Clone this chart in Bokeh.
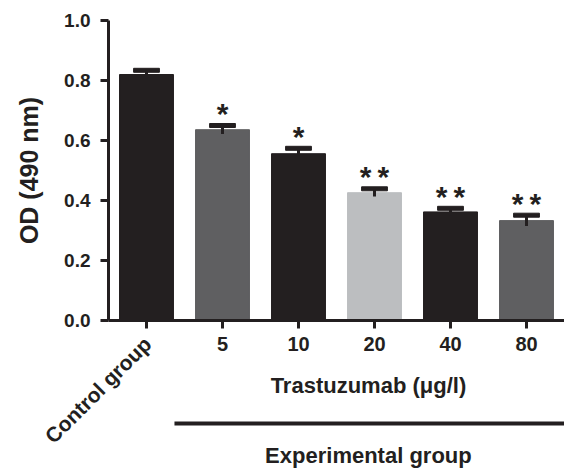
import math
from bokeh.plotting import figure
from bokeh.models import ColumnDataSource, Range1d, FixedTicker
from bokeh.core.properties import value
from bokeh.embed import file_html
from bokeh.resources import INLINE

# ---- data ----
categories = ["Control group", "5", "10", "20", "40", "80"]
od_values = [0.820, 0.636, 0.556, 0.426, 0.362, 0.333]
sem_values = [0.014, 0.014, 0.018, 0.013, 0.012, 0.018]
significance = ["", "*", "*", "*\u2009*", "*\u2009*", "*\u2009*"]
y_ticks = [0.0, 0.2, 0.4, 0.6, 0.8, 1.0]
dose_title = "Trastuzumab (\u03bcg/l)"
group_title = "Experimental group"

bar_colors = ["#231f20", "#5f5f61", "#231f20", "#bcbec0", "#231f20", "#5f5f61"]
INK = "#231f20"
FONT = "Liberation Sans"

# category slots: slot i is centred at i + 0.5
pos = [i + 0.5 for i in range(len(categories))]

src = ColumnDataSource(dict(
    x=pos,
    od=od_values,
    hi=[m + s for m, s in zip(od_values, sem_values)],
    lo=[m - s for m, s in zip(od_values, sem_values)],
    color=bar_colors,
    stars=significance,
))

p = figure(width=564, height=470, output_backend="svg", toolbar_location=None,
           x_range=Range1d(-108 / 76, len(categories)),
           y_range=Range1d(-0.5, 1.0 + 20 / 300),
           min_border_left=0, min_border_right=0, min_border_top=0,
           min_border_bottom=0)
p.outline_line_color = None
p.xgrid.grid_line_color = None
p.ygrid.grid_line_color = None
p.background_fill_color = "white"
p.border_fill_color = "white"

p.vbar(x="x", top="od", width=0.71, fill_color="color", line_color="color", source=src)
p.segment(x0="x", y0="lo", x1="x", y1="hi", line_width=3, line_color=INK, source=src)
p.rect(x="x", y="hi", width=0.34, height=4, height_units="screen",
       fill_color=INK, line_color=INK, source=src)
p.text(x="x", y="hi", text="stars", text_align="center", text_baseline="middle",
       y_offset=-12, text_font=value(FONT), text_font_style="bold",
       text_font_size=value("30px"), text_color=INK, source=src)

# y axis, placed at the left edge of the first category slot
ya = p.yaxis[0]
ya.fixed_location = 0
ya.ticker = FixedTicker(ticks=y_ticks)
ya.bounds = (0, 1.0)
ya.major_label_overrides = {t: f"{t:.1f}" for t in y_ticks}
ya.axis_label = "OD (490 nm)"
ya.axis_label_text_font = FONT
ya.axis_label_text_font_style = "bold"
ya.axis_label_text_font_size = "25px"
ya.axis_label_text_color = INK
ya.axis_label_standoff = 18
ya.major_label_text_font = FONT
ya.major_label_text_font_style = "bold"
ya.major_label_text_font_size = "19px"
ya.major_label_text_color = INK
ya.major_label_standoff = 10
ya.axis_line_width = 3
ya.axis_line_color = INK
ya.major_tick_line_width = 3
ya.major_tick_line_color = INK
ya.major_tick_out = 8
ya.major_tick_in = 0
ya.minor_tick_line_color = None

# x axis at OD = 0
xa = p.xaxis[0]
xa.fixed_location = 0
xa.ticker = FixedTicker(ticks=pos)
xa.bounds = (0, len(categories))
xa.major_label_overrides = {x: ("" if i == 0 else c) for i, (x, c) in enumerate(zip(pos, categories))}
xa.major_label_text_font = FONT
xa.major_label_text_font_style = "bold"
xa.major_label_text_font_size = "20px"
xa.major_label_text_color = INK
xa.major_label_standoff = 8
xa.axis_line_width = 3
xa.axis_line_color = INK
xa.major_tick_line_width = 3
xa.major_tick_line_color = INK
xa.major_tick_out = 8
xa.major_tick_in = 0
xa.minor_tick_line_color = None

# rotated control label
ctrl_src = ColumnDataSource(dict(x=pos[:1], label=categories[:1]))
p.text(x="x", y=0, text="label", source=ctrl_src, y_offset=20, x_offset=1,
       angle=math.pi / 4, text_align="right", text_baseline="middle",
       text_font=value(FONT), text_font_style="bold", text_font_size=value("21px"),
       text_color=INK)

# dose title, bracket line and group title (positions in slot / OD units)
p.text(x=[3.42], y=[-0.217], text=[dose_title], text_align="center", text_baseline="middle",
       text_font=value(FONT), text_font_style="bold", text_font_size=value("22px"),
       text_color=INK)
p.segment(x0=[0.868], y0=[-0.343], x1=[6.0], y1=[-0.343], line_width=4, line_color=INK)
p.text(x=[3.42], y=[-0.45], text=[group_title], text_align="center", text_baseline="middle",
       text_font=value(FONT), text_font_style="bold", text_font_size=value("22px"),
       text_color=INK)

open("out.html", "w").write(file_html(p, INLINE))
